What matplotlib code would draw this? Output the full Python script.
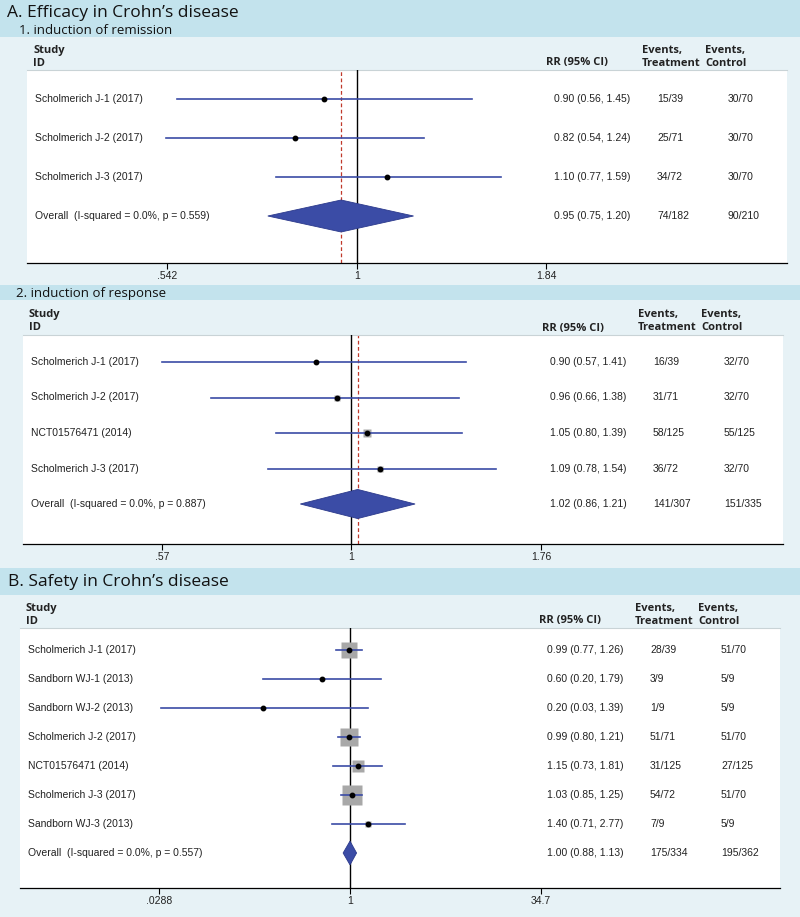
import numpy as np
import matplotlib.pyplot as plt
from matplotlib.patches import Rectangle, Polygon
from matplotlib.ticker import NullLocator

W, H = 800, 917

# ---- A1: induction of remission ----
rem_study = ['Scholmerich J-1 (2017)', 'Scholmerich J-2 (2017)', 'Scholmerich J-3 (2017)']
rem_rr = [0.90, 0.82, 1.10]
rem_lo = [0.56, 0.54, 0.77]
rem_hi = [1.45, 1.24, 1.59]
rem_wt = [29.0, 33.0, 38.0]
rem_treat = ['15/39', '25/71', '34/72']
rem_ctrl = ['30/70', '30/70', '30/70']
rem_overall = [0.95, 0.75, 1.20]
rem_overall_events = ['74/182', '90/210']
rem_overall_label = 'Overall  (I-squared = 0.0%, p = 0.559)'
rem_ticks = [0.542, 1, 1.84]
rem_ticklabels = ['.542', '1', '1.84']

# ---- A2: induction of response ----
resp_study = ['Scholmerich J-1 (2017)', 'Scholmerich J-2 (2017)', 'NCT01576471 (2014)',
              'Scholmerich J-3 (2017)']
resp_rr = [0.90, 0.96, 1.05, 1.09]
resp_lo = [0.57, 0.66, 0.80, 0.78]
resp_hi = [1.41, 1.38, 1.39, 1.54]
resp_wt = [17.0, 22.0, 39.0, 22.0]
resp_treat = ['16/39', '31/71', '58/125', '36/72']
resp_ctrl = ['32/70', '32/70', '55/125', '32/70']
resp_overall = [1.02, 0.86, 1.21]
resp_overall_events = ['141/307', '151/335']
resp_overall_label = 'Overall  (I-squared = 0.0%, p = 0.887)'
resp_ticks = [0.57, 1, 1.76]
resp_ticklabels = ['.57', '1', '1.76']

# ---- B: safety ----
saf_study = ['Scholmerich J-1 (2017)', 'Sandborn WJ-1 (2013)', 'Sandborn WJ-2 (2013)',
             'Scholmerich J-2 (2017)', 'NCT01576471 (2014)', 'Scholmerich J-3 (2017)',
             'Sandborn WJ-3 (2013)']
saf_rr = [0.99, 0.60, 0.20, 0.99, 1.15, 1.03, 1.40]
saf_lo = [0.77, 0.20, 0.03, 0.80, 0.73, 0.85, 0.71]
saf_hi = [1.26, 1.79, 1.39, 1.21, 1.81, 1.25, 2.77]
saf_wt = [22.0, 1.5, 0.4, 29.0, 14.0, 31.0, 3.1]
saf_treat = ['28/39', '3/9', '1/9', '51/71', '31/125', '54/72', '7/9']
saf_ctrl = ['51/70', '5/9', '5/9', '51/70', '27/125', '51/70', '5/9']
saf_overall = [1.00, 0.88, 1.13]
saf_overall_events = ['175/334', '195/362']
saf_overall_label = 'Overall  (I-squared = 0.0%, p = 0.557)'
saf_ticks = [0.0288, 1, 34.7]
saf_ticklabels = ['.0288', '1', '34.7']

BAND = '#c3e3ed'
BG = '#e7f2f6'
BLUE = '#3b4ca6'
HEAD_FONT = 'Open Sans'
BODY_FONT = 'Liberation Sans'

fig = plt.figure(figsize=(W / 100, H / 100), dpi=100)
fig.patch.set_facecolor(BG)


def band(y0, y1):
    fig.add_artist(Rectangle((0, 1 - y1 / H), 1, (y1 - y0) / H, transform=fig.transFigure,
                             facecolor=BAND, edgecolor='none', zorder=0))


def ftext(px, py, s, **kw):
    fig.text(px / W, 1 - py / H, s, **kw)


def forest(study, rr, lo, hi, wt, treat, ctrl, overall, ov_events, ov_label,
           ticks, ticklabels, left, right, top, bottom, row0, dy, x0, scale, box_k, refline=True):
    ax = fig.add_axes([left / W, 1 - bottom / H, (right - left) / W, (bottom - top) / H])
    ax.set_facecolor('white')
    n = len(study)
    ax.set_xscale('log')
    ax.set_xlim(np.exp((left - x0) / scale), np.exp((right - x0) / scale))
    ax.set_ylim(1 + (bottom - row0) / dy, 1 + (top - row0) / dy)
    for sp in ['left', 'right']:
        ax.spines[sp].set_visible(False)
    ax.spines['top'].set_color('#c9d3d6')
    ax.spines['top'].set_linewidth(0.8)
    ax.spines['bottom'].set_linewidth(0.9)
    ax.set_yticks([])
    ax.set_xticks(ticks)
    ax.set_xticklabels(ticklabels, fontsize=7.5, family=BODY_FONT, color='#222222')
    ax.xaxis.set_minor_locator(NullLocator())
    ax.tick_params(axis='x', length=4, width=0.8, pad=2)

    ys = np.arange(1, n + 1)
    ov_y = n + 1
    if refline:
        ax.axvline(overall[0], color='#c0392b', lw=0.9, ls=(0, (3, 2)), zorder=2)
    ax.axvline(1, color='black', lw=1.0, zorder=3)

    for y, r, l, h, w in zip(ys, rr, lo, hi, wt):
        side = box_k * np.sqrt(w)
        ax.plot([r], [y], marker='s', ms=side * 0.72, color='#a8a8a8', mec='none', zorder=4)
        ax.plot([l, h], [y, y], color=BLUE, lw=1.2, zorder=5)
        ax.plot([r], [y], marker='o', ms=3.2, color='black', zorder=6)

    hh = 0.41
    ax.add_patch(Polygon([(overall[1], ov_y), (overall[0], ov_y - hh), (overall[2], ov_y),
                          (overall[0], ov_y + hh)], closed=True, facecolor=BLUE,
                         edgecolor='#2c3a8c', lw=0.6, zorder=5))

    tr = ax.get_yaxis_transform()
    ax_w = right - left

    def col(px):
        return (px - left) / ax_w

    kw = dict(transform=tr, va='center', ha='left', fontsize=7.5, family=BODY_FONT,
              color='#222222', clip_on=False)
    for y, s, r, l, h, t, c in zip(ys, study, rr, lo, hi, treat, ctrl):
        ax.text(col(left + 8), y, s, **kw)
        ax.text(col(left + 527), y, f'{r:.2f} ({l:.2f}, {h:.2f})', **kw)
        ax.text(col(left + 630), y, t, **kw)
        ax.text(col(left + 701), y, c, **kw)
    ax.text(col(left + 8), ov_y, ov_label, **kw)
    ax.text(col(left + 527), ov_y,
            f'{overall[0]:.2f} ({overall[1]:.2f}, {overall[2]:.2f})', **kw)
    ax.text(col(left + 630), ov_y, ov_events[0], **kw)
    ax.text(col(left + 701), ov_y, ov_events[1], **kw)

    hk = dict(va='center', ha='left', fontsize=8, family=HEAD_FONT, weight='bold',
              color='#222222')
    ftext(left + 6, top - 20, 'Study', **hk)
    ftext(left + 6, top - 7, 'ID', **hk)
    ftext(left + 519, top - 7, 'RR (95% CI)', **hk)
    ftext(left + 615, top - 20, 'Events,', **hk)
    ftext(left + 615, top - 7, 'Treatment', **hk)
    ftext(left + 678, top - 20, 'Events,', **hk)
    ftext(left + 678, top - 7, 'Control', **hk)
    return ax


band(0, 37)
band(285, 300)
band(568, 595)
ftext(7, 13, 'A. Efficacy in Crohn\u2019s disease', fontsize=12.5, family=HEAD_FONT,
      va='center', color='#111111')
ftext(19, 30, '1. induction of remission', fontsize=9.5, family=HEAD_FONT, va='center',
      color='#111111')
ftext(16, 293, '2. induction of response', fontsize=9.5, family=HEAD_FONT, va='center',
      color='#111111')
ftext(8, 582, 'B. Safety in Crohn\u2019s disease', fontsize=12.5, family=HEAD_FONT,
      va='center', color='#111111')

forest(rem_study, rem_rr, rem_lo, rem_hi, rem_wt, rem_treat, rem_ctrl, rem_overall,
       rem_overall_events, rem_overall_label, rem_ticks, rem_ticklabels,
       left=27, right=787, top=70, bottom=263, row0=99, dy=39, x0=357, scale=310, box_k=0.8)
forest(resp_study, resp_rr, resp_lo, resp_hi, resp_wt, resp_treat, resp_ctrl, resp_overall,
       resp_overall_events, resp_overall_label, resp_ticks, resp_ticklabels,
       left=23, right=783, top=335, bottom=544, row0=362, dy=35.5, x0=351, scale=336, box_k=1.2)
forest(saf_study, saf_rr, saf_lo, saf_hi, saf_wt, saf_treat, saf_ctrl, saf_overall,
       saf_overall_events, saf_overall_label, saf_ticks, saf_ticklabels,
       left=20, right=780, top=628, bottom=888, row0=650, dy=29, x0=350, scale=53.86,
       box_k=3.45, refline=False)

fig.savefig('out.png', dpi=100, facecolor=fig.get_facecolor())
